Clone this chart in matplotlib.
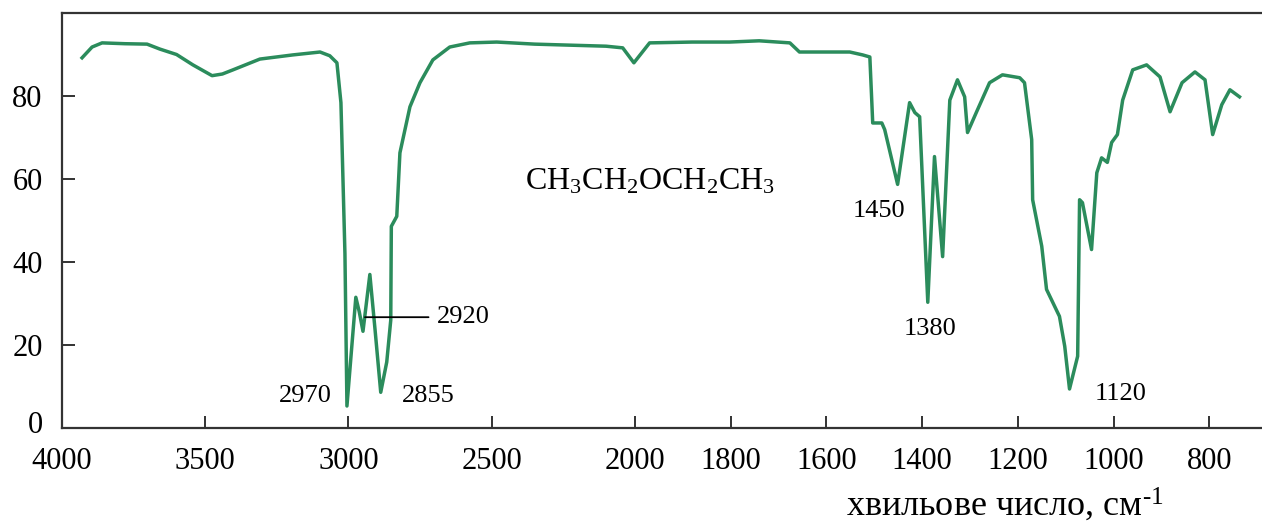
import numpy as np
import matplotlib
matplotlib.use("Agg")
import matplotlib.pyplot as plt
import matplotlib.transforms as mtransforms

plt.rcParams['font.family'] = ['Liberation Serif', 'DejaVu Serif']
plt.rcParams['mathtext.fontset'] = 'custom'
plt.rcParams['mathtext.rm'] = 'Liberation Serif'
plt.rcParams['mathtext.it'] = 'Liberation Serif:italic'

# IR spectrum of diethyl ether
wavenumber = [3930, 3895, 3860, 3780, 3703, 3658, 3600, 3543, 3476, 3440,
              3403, 3309, 3194, 3099, 3065, 3040, 3026, 3012, 3005, 2990,
              2974, 2962, 2949, 2925, 2907, 2887, 2866, 2852, 2850, 2831,
              2820, 2785, 2750, 2705, 2646, 2576, 2482, 2350, 2251, 2100,
              2042, 2003, 1969, 1880, 1802, 1740, 1676, 1656, 1551, 1524,
              1509, 1503, 1484, 1478, 1451, 1426, 1415, 1405, 1388, 1374,
              1357, 1342, 1326, 1311, 1305, 1286, 1259, 1232, 1196, 1186,
              1171, 1169, 1150, 1140, 1113, 1102, 1092, 1075, 1071, 1065,
              1046, 1035, 1025, 1013, 1004, 992, 981, 960, 931, 903,
              882, 857, 830, 809, 793, 774, 757, 737]
transmittance = [89.2, 91.8, 92.8, 92.6, 92.5, 91.3, 90.0, 87.5, 84.9, 85.3,
                 86.3, 88.9, 89.9, 90.6, 89.7, 88.0, 78.4, 42.0, 5.3, 18.0,
                 31.5, 28.0, 23.3, 37.0, 23.8, 8.6, 15.9, 26.0, 48.6, 51.0,
                 66.3, 77.4, 83.2, 88.7, 91.8, 92.8, 93.0, 92.5, 92.3, 92.0,
                 91.6, 88.0, 92.8, 93.0, 93.0, 93.3, 92.8, 90.6, 90.6, 89.9,
                 89.4, 73.5, 73.5, 71.9, 58.7, 78.4, 76.0, 75.0, 30.3, 65.4,
                 41.3, 79.0, 83.9, 79.8, 71.2, 76.2, 83.2, 85.1, 84.4, 83.2,
                 69.5, 55.0, 43.8, 33.4, 26.9, 19.7, 9.4, 17.3, 55.0, 54.3,
                 43.0, 61.5, 65.1, 64.0, 68.8, 70.7, 79.0, 86.3, 87.5, 84.6,
                 76.2, 83.2, 85.8, 83.9, 70.7, 77.9, 81.5, 79.8]

xticks = [4000, 3500, 3000, 2500, 2000, 1800, 1600, 1400, 1200, 1000, 800]
yticks = [0, 20, 40, 60, 80]

# peak labels: (text, x, y)
peak_labels = [("2970", 3152, 7.7), ("2855", 2722, 7.7), ("1450", 1489, 52.2),
               ("1380", 1384, 23.8), ("1120", 985, 8.2)]

# below 2000 cm-1 the axis is stretched
k = 1.672


def forward(w):
    w = np.asarray(w, dtype=float)
    return np.where(w >= 2000, w, 2000 - (2000 - w) * k)


def inverse(u):
    u = np.asarray(u, dtype=float)
    return np.where(u >= 2000, u, 2000 - (2000 - u) / k)


fig = plt.figure(figsize=(12.62, 5.24), dpi=100)
ax = fig.add_axes([62 / 1262, 96 / 524, 1200 / 1262, 415 / 524])
ax.set_xscale('function', functions=(forward, inverse))

ax.plot(wavenumber, transmittance, color='#2b8c5c', lw=2.5,
        solid_joinstyle='round')

ax.set_xlim(4000, 690)
ax.set_ylim(0, 100)
ax.set_xticks(xticks)
ax.set_xticklabels([str(t) for t in xticks])
ax.set_yticks(yticks)
ax.minorticks_off()
ax.tick_params(direction='in', length=9, width=1.3, labelsize=22, color='#222222')
ax.tick_params(axis='x', pad=14)
ax.tick_params(axis='y', pad=14)

# the "0" sits a little above the bottom spine
zero_lab = ax.get_yticklabels()[0]
zero_lab.set_transform(zero_lab.get_transform() +
                       mtransforms.ScaledTranslation(0, 6 / 100, fig.dpi_scale_trans))

for side in ['left', 'top', 'bottom']:
    ax.spines[side].set_linewidth(1.6)
    ax.spines[side].set_color('#333333')
ax.spines['right'].set_visible(False)

for txt, x, y in peak_labels:
    ax.text(x, y, txt, fontsize=19, ha='center', va='center')

ax.annotate("2920", xy=(2942, 26.7), xytext=(2691, 26.7), fontsize=19,
            ha='left', va='center',
            arrowprops=dict(arrowstyle='-', color='black', lw=1.3,
                            shrinkA=4, shrinkB=0))

ax.text(1969, 57.5, r'$\mathregular{CH_3CH_2OCH_2CH_3}$', fontsize=23,
        ha='center', va='baseline')

fig.text(1005 / 1262, 1 - 505 / 524, r'хвильове число, см$^{\text{-1}}$',
         fontsize=26, ha='center', va='center')

fig.savefig('out.png', dpi=100)
